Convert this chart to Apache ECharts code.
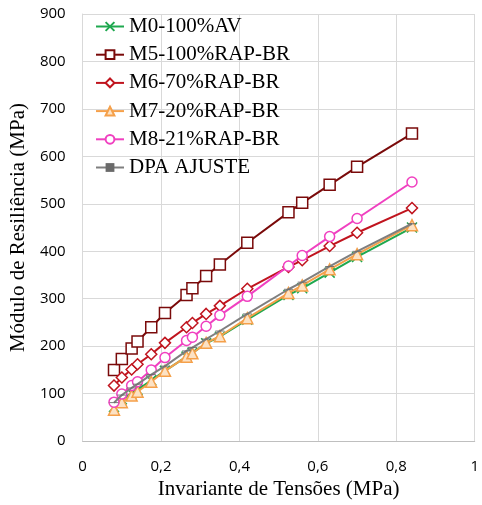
<!DOCTYPE html>
<html>
<head>
<meta charset="utf-8">
<script src="https://cdn.jsdelivr.net/npm/echarts@6/dist/echarts.min.js"></script>
<style>
  html, body { margin: 0; padding: 0; background: #fff; }
  #chart { width: 482px; height: 505px; }
</style>
</head>
<body>
<div id="chart"></div>
<script>
// invariante de tensões (MPa)
const tensoes = [0.08, 0.10, 0.125, 0.14, 0.175, 0.21, 0.265, 0.28, 0.315, 0.35, 0.42, 0.525, 0.56, 0.63, 0.70, 0.84];

// módulo de resiliência (MPa)
const m0 = [72, 88, 101, 108, 128, 148, 178, 186, 206, 220, 256, 308, 322, 355, 388, 450];
const m5 = [150, 173, 195, 210, 240, 270, 308, 322, 348, 372, 418, 482, 502, 540, 578, 648];
const m6 = [117, 134, 151, 162, 183, 207, 240, 249, 268, 285, 321, 367, 381, 411, 439, 491];
const m7 = [66, 82, 96, 104, 125, 148, 178, 185, 207, 221, 259, 312, 328, 362, 394, 455];
const m8 = [82, 99, 117, 125, 150, 176, 212, 219, 242, 265, 305, 369, 391, 431, 469, 546];
const dpa = [81, 97, 112, 120, 140, 158, 190, 197, 215, 232, 268, 320, 335, 368, 400, 458];

const nomes = ['M0-100%AV', 'M5-100%RAP-BR', 'M6-70%RAP-BR', 'M7-20%RAP-BR', 'M8-21%RAP-BR', 'DPA AJUSTE'];

const pares = ys => tensoes.map((x, i) => [x, ys[i]]);

const serie = (name, data, cor, simbolo, tamanho, preenchimento, borda, z) => ({
    name,
    type: 'line',
    data: pares(data),
    symbol: simbolo,
    symbolSize: tamanho,
    symbolKeepAspect: true,
    showAllSymbol: true,
    z,
    lineStyle: { color: cor, width: 2 },
    itemStyle: { color: preenchimento, borderColor: cor, borderWidth: borda },
    emphasis: { disabled: true }
});

const chart = echarts.init(document.getElementById('chart'));

chart.setOption({
    backgroundColor: '#fff',
    animation: false,
    grid: { left: 82, right: 0, top: 14, bottom: 59, containLabel: false },
    legend: {
        orient: 'vertical',
        left: 90,
        top: 11,
        itemWidth: 28,
        itemHeight: 11,
        itemGap: 7.2,
        data: nomes,
        textStyle: { fontFamily: 'Liberation Serif', fontSize: 21, color: '#000' }
    },
    xAxis: {
        type: 'value',
        min: 0,
        max: 1,
        interval: 0.2,
        name: 'Invariante de Tensões (MPa)',
        nameLocation: 'middle',
        nameGap: 32,
        nameTextStyle: { fontFamily: 'Liberation Serif', fontSize: 21, color: '#000' },
        axisLine: { show: true, lineStyle: { color: '#BFBFBF', width: 1 } },
        axisTick: { show: false },
        axisLabel: {
            margin: 18,
            fontFamily: 'Open Sans',
            fontSize: 15,
            color: '#000',
            formatter: v => String(+v.toFixed(1)).replace('.', ',')
        },
        splitLine: { show: true, lineStyle: { color: '#D9D9D9', width: 1 } }
    },
    yAxis: {
        type: 'value',
        min: 0,
        max: 900,
        interval: 100,
        name: 'Módulo de Resiliência (MPa)',
        nameLocation: 'middle',
        nameGap: 44,
        nameTextStyle: { fontFamily: 'Liberation Serif', fontSize: 21, color: '#000' },
        axisLine: { show: true, lineStyle: { color: '#D9D9D9', width: 1 } },
        axisTick: { show: false },
        axisLabel: { margin: 17, fontFamily: 'Open Sans', fontSize: 15, color: '#000' },
        splitLine: { show: true, lineStyle: { color: '#D9D9D9', width: 1 } }
    },
    series: [
        serie(nomes[0], m0, '#1FA84F', 'path://M0,0L10,10M0,10L10,0', 10, '#1FA84F', 1.5, 2),
        serie(nomes[1], m5, '#7A0A0A', 'rect', 11, '#fff', 1.5, 3),
        serie(nomes[2], m6, '#C0141E', 'diamond', 11, '#fff', 1.5, 4),
        serie(nomes[3], m7, '#F5A04A', 'triangle', 11, '#FCE2C4', 1.5, 3),
        serie(nomes[4], m8, '#F040C0', 'circle', 10, '#fff', 1.5, 5),
        serie(nomes[5], dpa, '#7F7F7F', 'path://M0,0H10V3H0Z', [9, 3], '#6A6A6A', 0, 6)
    ]
});
</script>
</body>
</html>
